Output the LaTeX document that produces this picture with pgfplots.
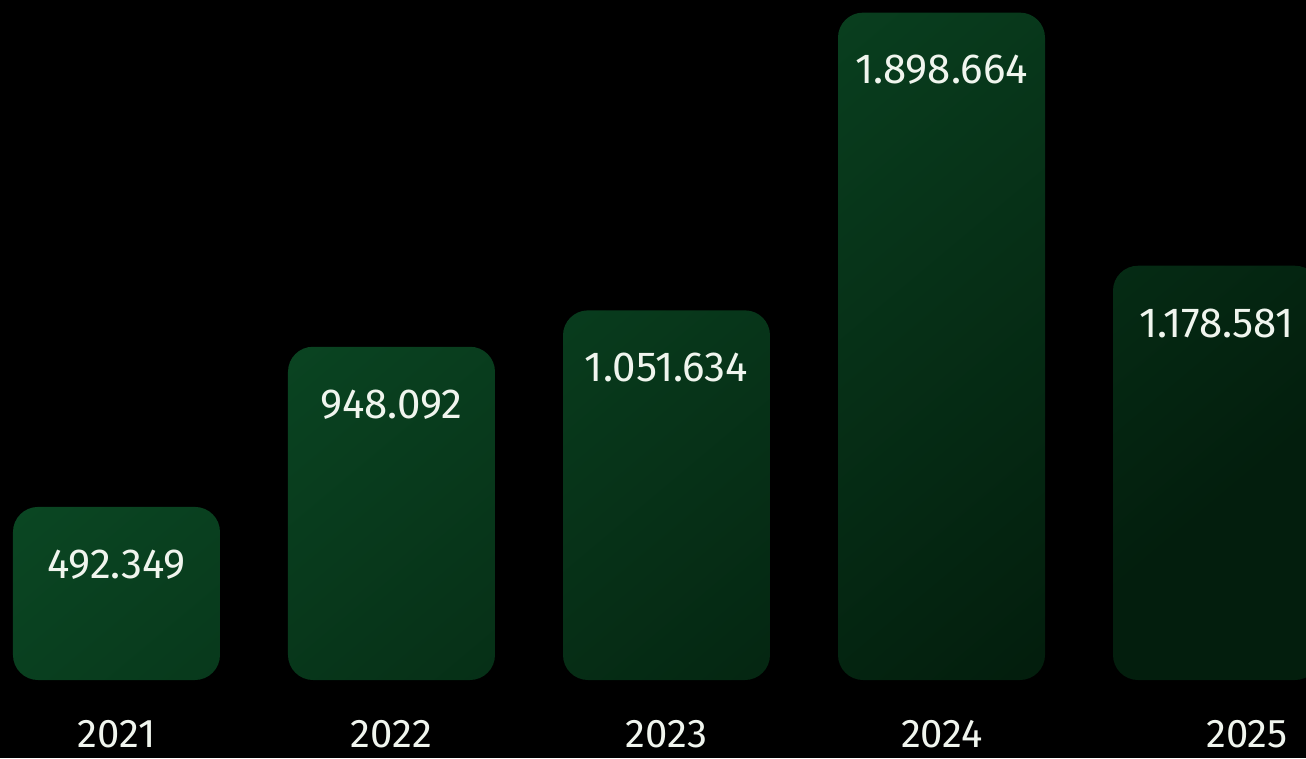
\documentclass[border=0pt]{standalone}
\usepackage{fontspec}
\setmainfont{Fira Sans}
\usepackage{pgfplots}
\pgfplotsset{compat=1.18}
\definecolor{bartop}{RGB}{12,80,40}
\definecolor{barbot}{RGB}{3,30,13}
\definecolor{txt}{RGB}{240,245,238}
\begin{document}
\begin{tikzpicture}
\fill[black] (0,0) rectangle (522.4pt,303.2pt);
\useasboundingbox (0,0) rectangle (522.4pt,303.2pt);
\begin{axis}[
  at={(0pt,31.2pt)}, anchor=south west,
  scale only axis, width=522.4pt, height=272pt,
  xmin=-0.4236, xmax=4.3255, ymin=0, ymax=1934600,
  axis lines=none,
  ybar, bar width=0.7527,
  clip=true,
  nodes near coords,
  point meta=explicit symbolic,
  every node near coord/.append style={anchor=center, yshift=-23pt, font=\fontsize{16.8}{18}\selectfont, text=txt},
]
\addplot[draw=none, rounded corners=10pt, top color=bartop, bottom color=barbot, shading angle=40]
  coordinates {(0,492349)[492.349] (1,948092)[948.092] (2,1051634)[1.051.634] (3,1898664)[1.898.664] (4,1178581)[1.178.581]};
\end{axis}
\foreach \x/\y in {116.5/2021, 391.5/2022, 666.5/2023, 942/2024, 1247/2025}
  \node[text=txt, anchor=base, inner sep=0pt, font=\fontsize{16}{18}\selectfont] at (\x*0.4pt, 11*0.4pt) {\y};
\end{tikzpicture}
\end{document}
